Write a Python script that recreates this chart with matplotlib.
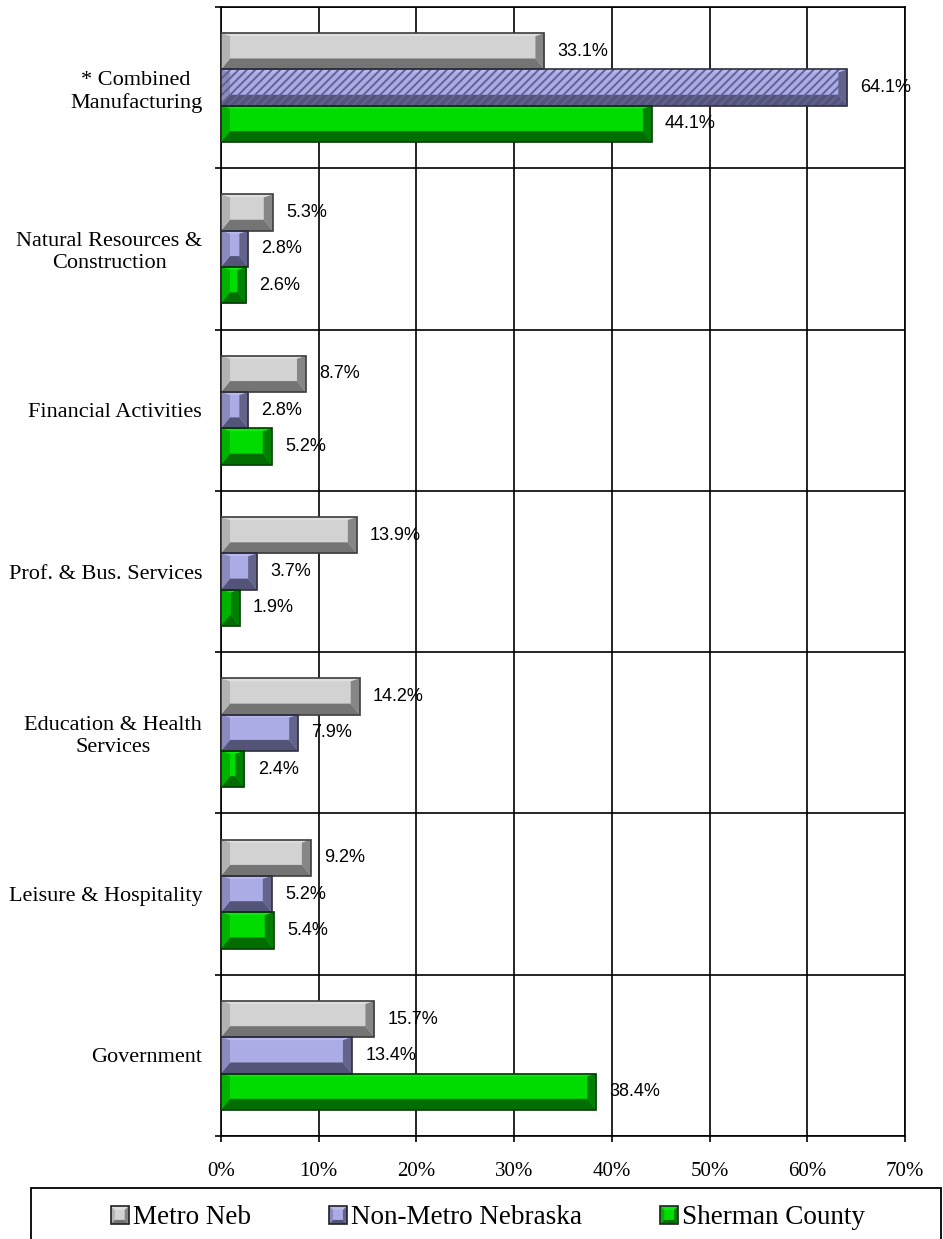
import matplotlib
matplotlib.use('Agg')
import matplotlib.pyplot as plt
from matplotlib.patches import Polygon, Rectangle
from matplotlib.legend_handler import HandlerBase

plt.rcParams['font.family'] = ['Liberation Serif', 'DejaVu Serif']
plt.rcParams['hatch.linewidth'] = 1.4

# data
categories = ['* Combined\nManufacturing', 'Natural Resources &\nConstruction',
              'Financial Activities', 'Prof. & Bus. Services',
              'Education & Health\nServices', 'Leisure & Hospitality', 'Government']
series = ['Metro Neb', 'Non-Metro Nebraska', 'Sherman County']
metro = [33.1, 5.3, 8.7, 13.9, 14.2, 9.2, 15.7]
nonmetro = [64.1, 2.8, 2.8, 3.7, 7.9, 5.2, 13.4]
sherman = [44.1, 2.6, 5.2, 1.9, 2.4, 5.4, 38.4]
xticks = [0, 10, 20, 30, 40, 50, 60, 70]
xticklabels = ['0%', '10%', '20%', '30%', '40%', '50%', '60%', '70%']
hatched = [(0, 1)]  # (category index, series index)

# face, top, left, bottom, right, edge
palettes = [
    ['#D2D2D2', '#DEDEDE', '#B2B2B2', '#747474', '#868686', '#3C3C3C'],
    ['#ABABE6', '#B9B9EE', '#8A8ABD', '#545478', '#64648A', '#2E2E40'],
    ['#00DC00', '#10E610', '#00B200', '#006E00', '#008000', '#003C00'],
]

W, H, DPI = 943, 1239, 100
fig = plt.figure(figsize=(W / DPI, H / DPI), dpi=DPI)
ax = fig.add_axes([221 / W, 1 - 1136 / H, 684 / W, 1129 / H])
ax.set_xlim(0, 70)
ax.set_ylim(len(categories) - 0.5, -0.5)

px_x = 684 / 70.0   # pixels per x unit
px_y = 1129 / len(categories)


def bevel(ax, rect, pal, z=3):
    x0, y0 = rect.get_x(), rect.get_y()
    w, h = rect.get_width(), rect.get_height()
    x1, yt, yb = x0 + w, y0, y0 + h
    bx = min(9 / px_x, w / 2)
    dt = 3 / px_y
    db = 11 / px_y
    polys = [
        ([(x0, yt), (x1, yt), (x1 - bx, yt + dt), (x0 + bx, yt + dt)], pal[1]),
        ([(x0, yb), (x1, yb), (x1 - bx, yb - db), (x0 + bx, yb - db)], pal[3]),
        ([(x0, yt), (x0 + bx, yt + dt), (x0 + bx, yb - db), (x0, yb)], pal[2]),
        ([(x1, yt), (x1 - bx, yt + dt), (x1 - bx, yb - db), (x1, yb)], pal[4]),
    ]
    for pts, c in polys:
        ax.add_patch(Polygon(pts, closed=True, facecolor=c, edgecolor='none', zorder=z))


values = [metro, nonmetro, sherman]
bh = 0.225
pos = list(range(len(categories)))
for i, vals in enumerate(values):
    pal = palettes[i]
    ys = [p + (i - 1) * bh for p in pos]
    bars = ax.barh(ys, vals, height=bh, color=pal[0], edgecolor='none', zorder=2)
    for r in bars:
        bevel(ax, r, pal)
    ax.barh(ys, vals, height=bh, fill=False, edgecolor=pal[5], linewidth=1.2, zorder=5)
    for (ci, si) in hatched:
        if si == i:
            ax.barh(ys[ci], vals[ci], height=bh, fill=False, edgecolor='#626294',
                    linewidth=0, hatch='////', zorder=4)
    ax.bar_label(bars, fmt='%.1f%%', padding=9.5, fontsize=13,
                 family='Liberation Sans', zorder=6)

# axes, grid, ticks
ax.set_xticks(xticks)
ax.set_xticklabels(xticklabels, fontsize=15)
ax.set_yticks(pos)
ax.set_yticklabels(categories, fontsize=16)
for lbl in ax.get_yticklabels():
    lbl.set_multialignment('center')
ax.set_yticks([p - 0.5 for p in pos] + [len(categories) - 0.5], minor=True)
ax.tick_params(axis='y', which='major', length=0, pad=13.5)
ax.tick_params(axis='y', which='minor', length=4, width=1.2, color='black')
ax.tick_params(axis='x', length=4, width=1.2, pad=15, color='black')
ax.set_axisbelow(True)
ax.grid(axis='x', which='major', color='black', linewidth=1.2)
ax.grid(axis='y', which='minor', color='black', linewidth=1.2)
for s in ax.spines.values():
    s.set_linewidth(1.2)
    s.set_color('black')


class BevelHandler(HandlerBase):
    def __init__(self, pal):
        super().__init__()
        self.pal = pal

    def create_artists(self, legend, orig_handle, xdescent, ydescent,
                       width, height, fontsize, trans):
        s = min(width, height)
        x0, y0 = -xdescent, -ydescent + (height - s) / 2
        x1, y1 = x0 + s, y0 + s
        b = s * 0.22
        p = self.pal
        arts = [Rectangle((x0, y0), s, s, facecolor=p[0], edgecolor='none', transform=trans)]
        shapes = [
            ([(x0, y1), (x1, y1), (x1 - b, y1 - b), (x0 + b, y1 - b)], p[1]),
            ([(x0, y0), (x1, y0), (x1 - b, y0 + b), (x0 + b, y0 + b)], p[3]),
            ([(x0, y1), (x0 + b, y1 - b), (x0 + b, y0 + b), (x0, y0)], p[2]),
            ([(x1, y1), (x1 - b, y1 - b), (x1 - b, y0 + b), (x1, y0)], p[4]),
        ]
        for pts, c in shapes:
            arts.append(Polygon(pts, closed=True, facecolor=c, edgecolor='none', transform=trans))
        arts.append(Rectangle((x0, y0), s, s, fill=False, edgecolor='#202020',
                              linewidth=1.2, transform=trans))
        return arts


handles = [Rectangle((0, 0), 1, 1, color=p[0]) for p in palettes]
fig.legend(handles, series, ncol=3, loc='center',
           bbox_to_anchor=(488 / W, 1 - 1218 / H), frameon=False,
           fontsize=19.5, handlelength=0.65, handleheight=0.65,
           handletextpad=0.15, columnspacing=2.9,
           handler_map={h: BevelHandler(p) for h, p in zip(handles, palettes)})
fig.add_artist(Rectangle((31 / W, 1 - 1260 / H), 910 / W, 72 / H,
                         transform=fig.transFigure, fill=False,
                         edgecolor='black', linewidth=1.3))

fig.savefig('out.png', dpi=DPI)
